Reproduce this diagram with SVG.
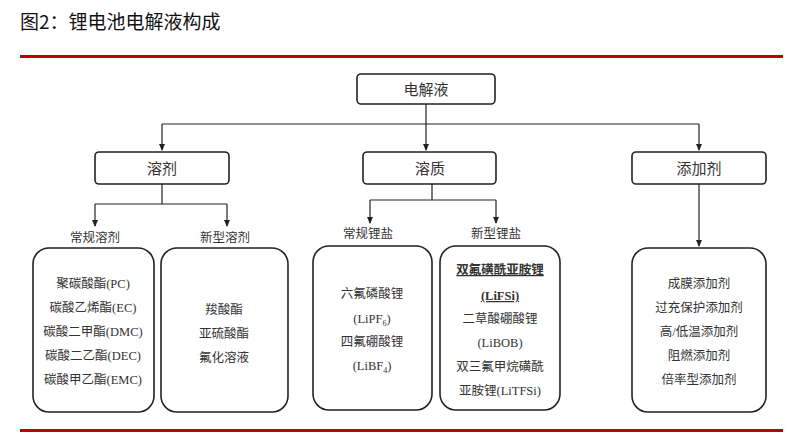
<svg xmlns="http://www.w3.org/2000/svg" width="810" height="436" viewBox="0 0 810 436">
<defs>
<marker id="ah" markerWidth="8" markerHeight="8" refX="6" refY="4" orient="auto" markerUnits="userSpaceOnUse"><path d="M0,1 L7,4 L0,7 z" fill="#222"/></marker>
<style>
.b{fill:#fff;stroke:#222;stroke-width:1.6}
.t{font-family:"Liberation Serif","Noto Sans CJK SC",serif;font-size:12.5px;fill:#333;text-anchor:middle}
.h{font-family:"Liberation Serif","Noto Sans CJK SC",serif;font-size:15px;fill:#333;text-anchor:middle}
.c{fill:none;stroke:#222;stroke-width:1.2}
</style>
</defs>
<rect width="810" height="436" fill="#fff"/>
<text x="20" y="29" font-family="'Noto Sans CJK SC',sans-serif" font-size="19" fill="#111">图2：锂电池电解液构成</text>
<rect x="20" y="55" width="763" height="3" fill="#c00000"/>
<rect x="20" y="429" width="763" height="3" fill="#c00000"/>
<g id="connectors">
<path class="c" d="M426,104 V150" marker-end="url(#ah)"/>
<path class="c" d="M162,124 H699"/>
<path class="c" d="M162,124 V150" marker-end="url(#ah)"/>
<path class="c" d="M699,124 V150" marker-end="url(#ah)"/>
<path class="c" d="M162,184 V204 M95,204 H227"/>
<path class="c" d="M95,204 V226" marker-end="url(#ah)"/>
<path class="c" d="M227,204 V226" marker-end="url(#ah)"/>
<path class="c" d="M432,184 V200 M370,200 H496"/>
<path class="c" d="M370,200 V223" marker-end="url(#ah)"/>
<path class="c" d="M496,200 V223" marker-end="url(#ah)"/>
<path class="c" d="M699,184 V246" marker-end="url(#ah)"/>
</g>
<g id="root"><rect class="b" x="357" y="74" width="138" height="30" rx="4"/><text class="h" x="426" y="95">电解液</text></g>
<g id="solvent"><rect class="b" x="95" y="152" width="134" height="32" rx="4"/><text class="h" x="162" y="174">溶剂</text></g>
<g id="solute"><rect class="b" x="363" y="152" width="133" height="32" rx="4"/><text class="h" x="430" y="174">溶质</text></g>
<g id="additive"><rect class="b" x="632" y="152" width="134" height="32" rx="4"/><text class="h" x="699" y="174">添加剂</text></g>
<text class="t" x="95" y="242">常规溶剂</text>
<text class="t" x="225" y="242">新型溶剂</text>
<text class="t" x="368" y="238">常规锂盐</text>
<text class="t" x="496" y="238">新型锂盐</text>
<g id="conv-solvent"><rect class="b" x="33" y="248" width="121" height="164" rx="16"/>
<text class="t" x="93" y="288">聚碳酸酯(PC)</text>
<text class="t" x="93" y="312">碳酸乙烯酯(EC)</text>
<text class="t" x="93" y="336">碳酸二甲酯(DMC)</text>
<text class="t" x="93" y="360">碳酸二乙酯(DEC)</text>
<text class="t" x="93" y="384">碳酸甲乙酯(EMC)</text></g>
<g id="new-solvent"><rect class="b" x="161" y="248" width="127" height="164" rx="16"/>
<text class="t" x="224" y="314">羧酸酯</text>
<text class="t" x="224" y="338">亚硫酸酯</text>
<text class="t" x="224" y="362">氟化溶液</text></g>
<g id="conv-salt"><rect class="b" x="313" y="246" width="119" height="164" rx="16"/>
<text class="t" x="372" y="298">六氟磷酸锂</text>
<text class="t" x="372" y="323">(LiPF<tspan font-size="8" dy="3">6</tspan><tspan dy="-3">)</tspan></text>
<text class="t" x="372" y="346">四氟硼酸锂</text>
<text class="t" x="372" y="370">(LiBF<tspan font-size="8" dy="3">4</tspan><tspan dy="-3">)</tspan></text></g>
<g id="new-salt"><rect class="b" x="440" y="246" width="120" height="164" rx="16"/>
<text class="t" x="500" y="274" font-weight="bold" text-decoration="underline">双氟磺酰亚胺锂</text>
<text class="t" x="500" y="300" font-weight="bold" text-decoration="underline">(LiFSi)</text>
<text class="t" x="500" y="323">二草酸硼酸锂</text>
<text class="t" x="500" y="347">(LiBOB)</text>
<text class="t" x="500" y="371">双三氟甲烷磺酰</text>
<text class="t" x="500" y="395">亚胺锂(LiTFSi)</text></g>
<g id="additives"><rect class="b" x="632" y="248" width="134" height="164" rx="16"/>
<text class="t" x="699" y="288">成膜添加剂</text>
<text class="t" x="699" y="312">过充保护添加剂</text>
<text class="t" x="699" y="336">高/低温添加剂</text>
<text class="t" x="699" y="360">阻燃添加剂</text>
<text class="t" x="699" y="384">倍率型添加剂</text></g>
</svg>
